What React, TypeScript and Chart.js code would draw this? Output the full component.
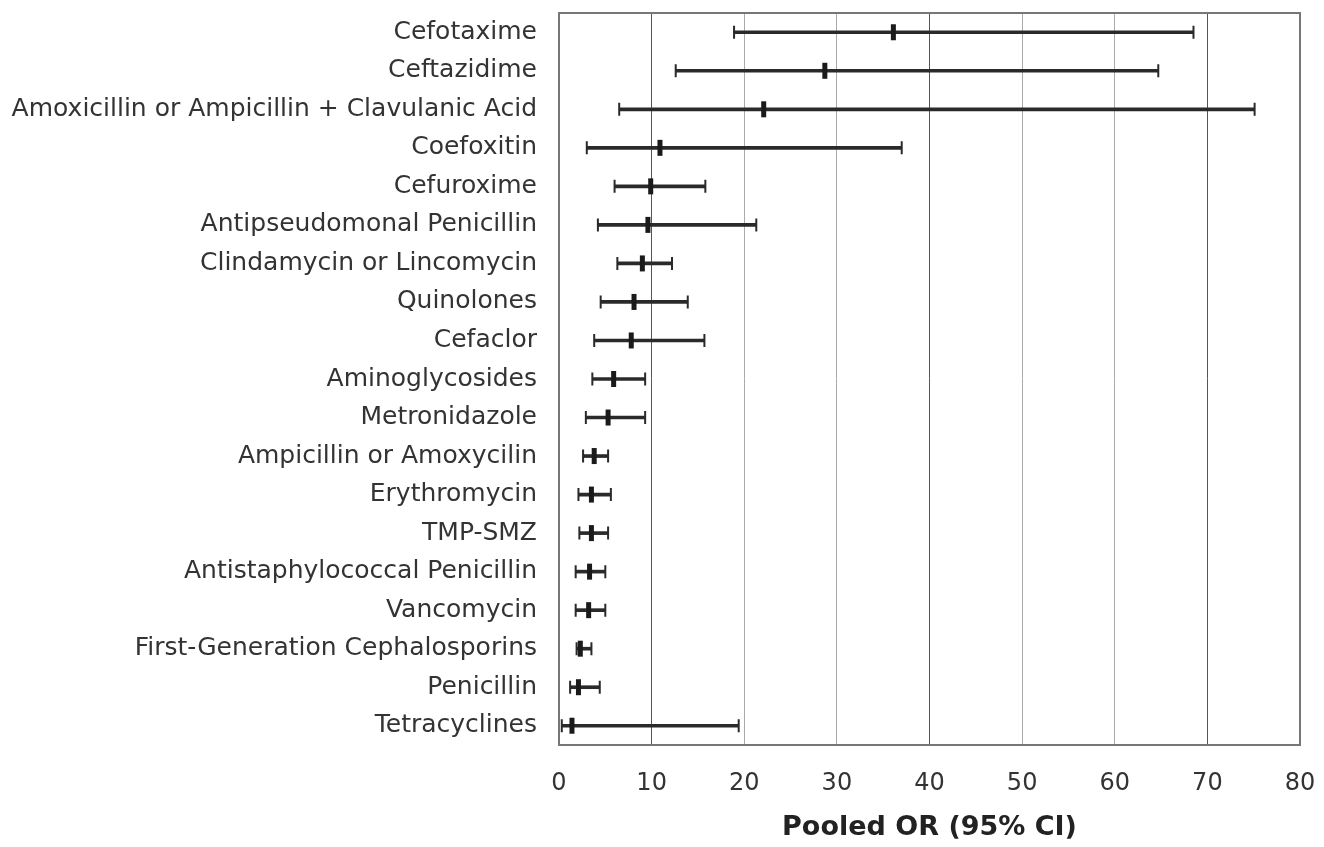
import React, { useEffect, useRef } from "react";
import { Chart, registerables } from "chart.js";

Chart.register(...registerables);

const categories = [
  "Cefotaxime",
  "Ceftazidime",
  "Amoxicillin or Ampicillin + Clavulanic Acid",
  "Coefoxitin",
  "Cefuroxime",
  "Antipseudomonal Penicillin",
  "Clindamycin or Lincomycin",
  "Quinolones",
  "Cefaclor",
  "Aminoglycosides",
  "Metronidazole",
  "Ampicillin or Amoxycilin",
  "Erythromycin",
  "TMP-SMZ",
  "Antistaphylococcal Penicillin",
  "Vancomycin",
  "First-Generation Cephalosporins",
  "Penicillin",
  "Tetracyclines",
];

const pooledOR = [36.1, 28.7, 22.1, 10.9, 9.9, 9.6, 9.0, 8.1, 7.8, 5.9, 5.3, 3.8, 3.5, 3.5, 3.3, 3.2, 2.3, 2.1, 1.4];
const ciLow = [18.9, 12.6, 6.5, 3.0, 6.0, 4.2, 6.3, 4.5, 3.8, 3.6, 2.9, 2.6, 2.1, 2.2, 1.8, 1.8, 1.9, 1.2, 0.3];
const ciHigh = [68.5, 64.7, 75.1, 37.0, 15.8, 21.3, 12.2, 13.9, 15.7, 9.3, 9.3, 5.3, 5.6, 5.3, 5.0, 5.0, 3.5, 4.4, 19.4];

const xTicks = [0, 10, 20, 30, 40, 50, 60, 70, 80];
const axisTitle = "Pooled OR (95% CI)";

const INK = "#2a2a2a";
const FONT = "'DejaVu Sans', 'Liberation Sans', Arial, sans-serif";

export default function App() {
  const ref = useRef<HTMLCanvasElement | null>(null);

  useEffect(() => {
    if (!ref.current) return;
    const toPts = (vals: number[]) => vals.map((v, i) => ({ x: v, y: categories[i] }));
    const chart = new Chart(ref.current, {
      type: "bar",
      data: {
        labels: categories,
        datasets: [
          {
            type: "bar",
            label: "95% CI",
            data: categories.map((_, i) => [ciLow[i], ciHigh[i]]) as any,
            backgroundColor: INK,
            borderWidth: 0,
            barThickness: 3,
            order: 3,
          } as any,
          {
            type: "line",
            label: "low cap",
            data: toPts(ciLow) as any,
            showLine: false,
            pointStyle: "line",
            rotation: 90,
            radius: 6.5,
            borderWidth: 2,
            borderColor: INK,
            backgroundColor: INK,
            order: 2,
          } as any,
          {
            type: "line",
            label: "high cap",
            data: toPts(ciHigh) as any,
            showLine: false,
            pointStyle: "line",
            rotation: 90,
            radius: 6.5,
            borderWidth: 2,
            borderColor: INK,
            backgroundColor: INK,
            order: 2,
          } as any,
          {
            type: "line",
            label: "Pooled OR",
            data: toPts(pooledOR) as any,
            showLine: false,
            pointStyle: "line",
            rotation: 90,
            radius: 8,
            borderWidth: 5,
            borderColor: "#1a1a1a",
            backgroundColor: "#1a1a1a",
            order: 1,
          } as any,
        ],
      },
      options: {
        indexAxis: "y",
        responsive: false,
        maintainAspectRatio: false,
        animation: false,
        layout: { padding: { top: 11, right: 24, left: 0, bottom: 0 } },
        plugins: {
          legend: { display: false },
          tooltip: { enabled: false },
        },
        scales: {
          x: {
            type: "linear",
            min: 0,
            max: 80,
            afterBuildTicks: (s: any) => {
              s.ticks = xTicks.map((v) => ({ value: v }));
            },
            afterFit: (s: any) => {
              s.height = 102;
              s.paddingLeft = 0;
              s.paddingRight = 0;
            },
            ticks: {
              color: "#333",
              font: { family: FONT, size: 24 },
              padding: 24,
            },
            grid: {
              drawTicks: false,
              color: (ctx: any) => {
                const v = ctx.tick && ctx.tick.value;
                if (v === 0 || v === 80) return "#777";
                if (v === 10 || v === 40 || v === 70) return "#555";
                return "#aaa";
              },
              lineWidth: 1,
            },
            border: { display: true, color: "#777", width: 2 },
            title: {
              display: true,
              text: axisTitle,
              color: "#222",
              font: { family: FONT, size: 27, weight: "bold" },
              padding: { top: 10, bottom: 3 },
            },
          },
          y: {
            type: "category",
            offset: true,
            afterFit: (s: any) => {
              s.width = 559;
              s.paddingTop = 0;
              s.paddingBottom = 0;
            },
            ticks: {
              color: "#333",
              font: { family: FONT, size: 25 },
              padding: 22,
              autoSkip: false,
            },
            grid: { display: false, drawTicks: false },
            border: { display: true, color: "#777", width: 2 },
          },
        },
      } as any,
      plugins: [
        {
          id: "frame",
          afterDraw(c: any) {
            const { ctx, chartArea } = c;
            ctx.save();
            ctx.strokeStyle = "#777";
            ctx.lineWidth = 2;
            ctx.strokeRect(chartArea.left, chartArea.top, chartArea.right - chartArea.left, chartArea.bottom - chartArea.top);
            ctx.restore();
          },
        },
      ],
    });
    return () => chart.destroy();
  }, []);

  return (
    <div style={{ position: "absolute", left: 0, top: 0, width: 1324, height: 847, background: "#fff" }}>
      <canvas ref={ref} width={1324} height={847} style={{ display: "block" }} />
    </div>
  );
}
